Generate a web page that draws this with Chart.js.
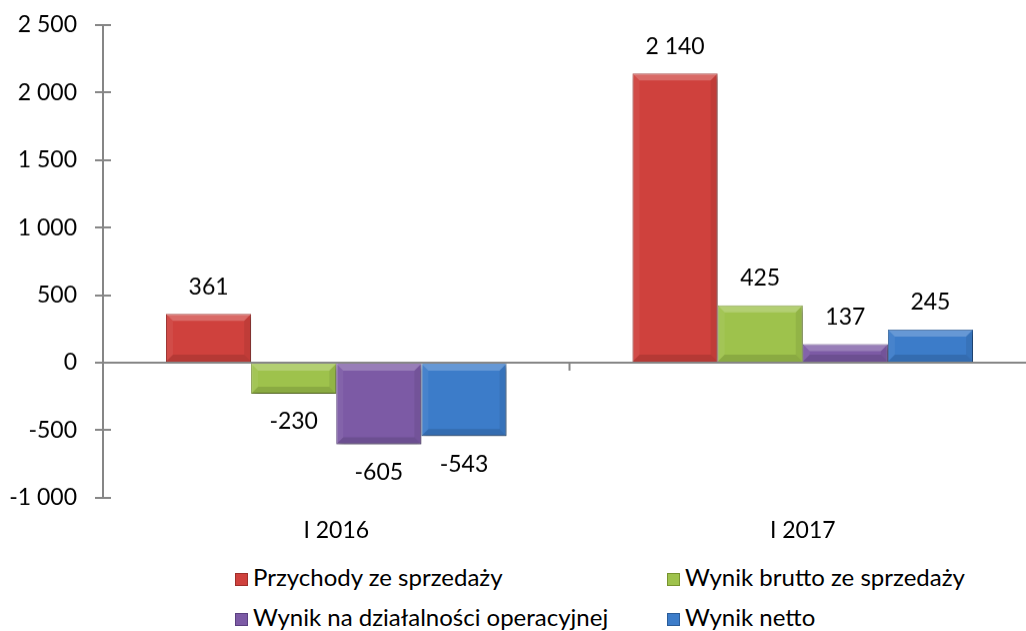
<!DOCTYPE html>
<html><head><meta charset="utf-8">
<script src="https://cdn.jsdelivr.net/npm/chart.js@4.4.1/dist/chart.umd.min.js"></script>
<style>
html,body{margin:0;padding:0;background:#fff;overflow:hidden;}
#wrap{position:relative;width:1026px;height:631px;overflow:hidden;background:#fff;}
#c{position:absolute;left:0;top:0;}
.lg{position:absolute;font-family:Lato,sans-serif;font-size:24px;color:#000;white-space:nowrap;line-height:28px;}
.lg i{display:inline-block;width:13px;height:13px;margin-right:5px;vertical-align:0px;box-sizing:border-box;}
</style></head>
<body><div id="wrap"><canvas id="c" width="1050" height="560"></canvas></div>
<script>
const categories = ['I 2016', 'I 2017'];
const seriesNames = ['Przychody ze sprzedaży', 'Wynik brutto ze sprzedaży', 'Wynik na działalności operacyjnej', 'Wynik netto'];
const przychody = [361, 2140];
const wynikBrutto = [-230, 425];
const wynikOperacyjny = [-605, 137];
const wynikNetto = [-543, 245];
const yMin = -1000, yMax = 2500, yStep = 500;

const colors = ['#cf413d', '#9ec24c', '#7c5aa5', '#3c7cc9'];
const borders = ['#9e2f2b', '#77932f', '#5b4080', '#2b5c98'];
const FONT = 'Lato';
const AREA_TOP = 25, AREA_BOTTOM = 497;

function fmt(v){
  const s = Math.abs(v).toString().replace(/\B(?=(\d{3})+(?!\d))/g, ' ');
  return (v < 0 ? '-' : '') + s;
}

const seriesValues = [przychody, wynikBrutto, wynikOperacyjny, wynikNetto];

const extras = {
  id: 'extras',
  beforeDatasetsDraw(chart){
    const ctx = chart.ctx;
    ctx.save();
    ctx.shadowColor = 'rgba(0,0,0,0.35)';
    ctx.shadowBlur = 5;
    ctx.shadowOffsetX = 2;
    ctx.shadowOffsetY = 3;
  },
  afterDatasetsDraw(chart){
    const ctx = chart.ctx;
    ctx.restore();
    chart.data.datasets.forEach((ds, di) => {
      chart.getDatasetMeta(di).data.forEach((bar) => {
        const w = bar.width, l = bar.x - w/2, r = bar.x + w/2;
        const t = Math.min(bar.y, bar.base), b = Math.max(bar.y, bar.base);
        const h = b - t;
        const s = Math.min(7, h/2);
        ctx.save();
        ctx.fillStyle = 'rgba(255,255,255,0.22)';
        ctx.beginPath(); ctx.moveTo(l,t); ctx.lineTo(r,t); ctx.lineTo(r-s,t+s); ctx.lineTo(l+s,t+s); ctx.closePath(); ctx.fill();
        ctx.fillStyle = 'rgba(0,0,0,0.12)';
        ctx.beginPath(); ctx.moveTo(l,b); ctx.lineTo(r,b); ctx.lineTo(r-s,b-s); ctx.lineTo(l+s,b-s); ctx.closePath(); ctx.fill();
        ctx.fillStyle = 'rgba(255,255,255,0.06)';
        ctx.beginPath(); ctx.moveTo(l,t); ctx.lineTo(l+s,t+s); ctx.lineTo(l+s,b-s); ctx.lineTo(l,b); ctx.closePath(); ctx.fill();
        ctx.fillStyle = 'rgba(0,0,0,0.07)';
        ctx.beginPath(); ctx.moveTo(r,t); ctx.lineTo(r-s,t+s); ctx.lineTo(r-s,b-s); ctx.lineTo(r,b); ctx.closePath(); ctx.fill();
        ctx.restore();
      });
    });
    ctx.save();
    ctx.font = '23px ' + FONT;
    ctx.fillStyle = '#000';
    ctx.textAlign = 'center';
    ctx.textBaseline = 'middle';
    chart.data.datasets.forEach((ds, di) => {
      chart.getDatasetMeta(di).data.forEach((bar, i) => {
        const v = ds.data[i];
        const y = v >= 0 ? bar.y - 27 : bar.y + 28;
        ctx.fillText(fmt(v), bar.x, y);
      });
    });
    ctx.restore();
  },
  afterDraw(chart){
    const ctx = chart.ctx, ys = chart.scales.y, xs = chart.scales.x;
    ctx.save();
    ctx.strokeStyle = '#868686';
    ctx.lineWidth = 2;
    ys.ticks.forEach(tk => {
      const py = Math.round(ys.getPixelForValue(tk.value));
      ctx.beginPath(); ctx.moveTo(ys.right, py); ctx.lineTo(ys.right + 8, py); ctx.stroke();
    });
    const zy = ys.getPixelForValue(0);
    const mid = (xs.getPixelForValue(0) + xs.getPixelForValue(1)) / 2;
    ctx.beginPath(); ctx.moveTo(mid, zy); ctx.lineTo(mid, zy + 8); ctx.stroke();
    ctx.restore();
  }
};

const canvas = document.getElementById('c');
const chart = new Chart(canvas, {
  type: 'bar',
  data: {
    labels: categories,
    datasets: seriesValues.map((vals, i) => ({
      label: seriesNames[i],
      data: vals,
      backgroundColor: colors[i],
      borderColor: borders[i],
      borderWidth: 1,
      categoryPercentage: 0.73,
      barPercentage: 1.0
    }))
  },
  options: {
    responsive: false,
    maintainAspectRatio: false,
    animation: false,
    devicePixelRatio: 1,
    layout: { padding: { top: 19, right: 14, bottom: 0, left: 0 } },
    plugins: { legend: { display: false }, tooltip: { enabled: false }, title: { display: false } },
    scales: {
      x: {
        grid: { display: false, drawTicks: false },
        border: { display: false },
        ticks: { color: '#000', font: { family: FONT, size: 23 }, padding: 19 },
        afterFit(s){ s.height = 63; }
      },
      y: {
        min: yMin, max: yMax,
        ticks: { stepSize: yStep, color: '#000', font: { family: FONT, size: 23 }, padding: 18, callback: v => fmt(v) },
        grid: {
          drawOnChartArea: true,
          color: c => (c.tick && c.tick.value === 0) ? '#868686' : 'rgba(0,0,0,0)',
          lineWidth: 2,
          tickColor: '#868686',
          tickLength: 8,
          tickWidth: 2
        },
        border: { display: true, color: '#868686', width: 2 },
        afterFit(s){ s.width = 103; }
      }
    }
  },
  plugins: [extras]
});

// align the plot area with the reference frame
(function fitArea(){
  const a = chart.chartArea;
  const diff = (AREA_BOTTOM - AREA_TOP) - (a.bottom - a.top);
  if (Math.abs(diff) > 0.5) {
    canvas.style.width = '1050px';
    canvas.style.height = (560 + diff) + 'px';
    chart.resize(1050, 560 + diff);
  }
  const b = chart.chartArea;
  canvas.style.top = (AREA_TOP - b.top) + 'px';
})();

const pos = [[235, 563], [667, 563], [235, 603], [667, 603]];
const wrap = document.getElementById('wrap');
seriesNames.forEach((n, i) => {
  const d = document.createElement('div');
  d.className = 'lg';
  d.style.left = pos[i][0] + 'px';
  d.style.top = pos[i][1] + 'px';
  const box = document.createElement('i');
  box.style.background = colors[i];
  box.style.border = '1px solid ' + borders[i];
  d.appendChild(box);
  d.appendChild(document.createTextNode(n));
  wrap.appendChild(d);
});
</script>
</body></html>
